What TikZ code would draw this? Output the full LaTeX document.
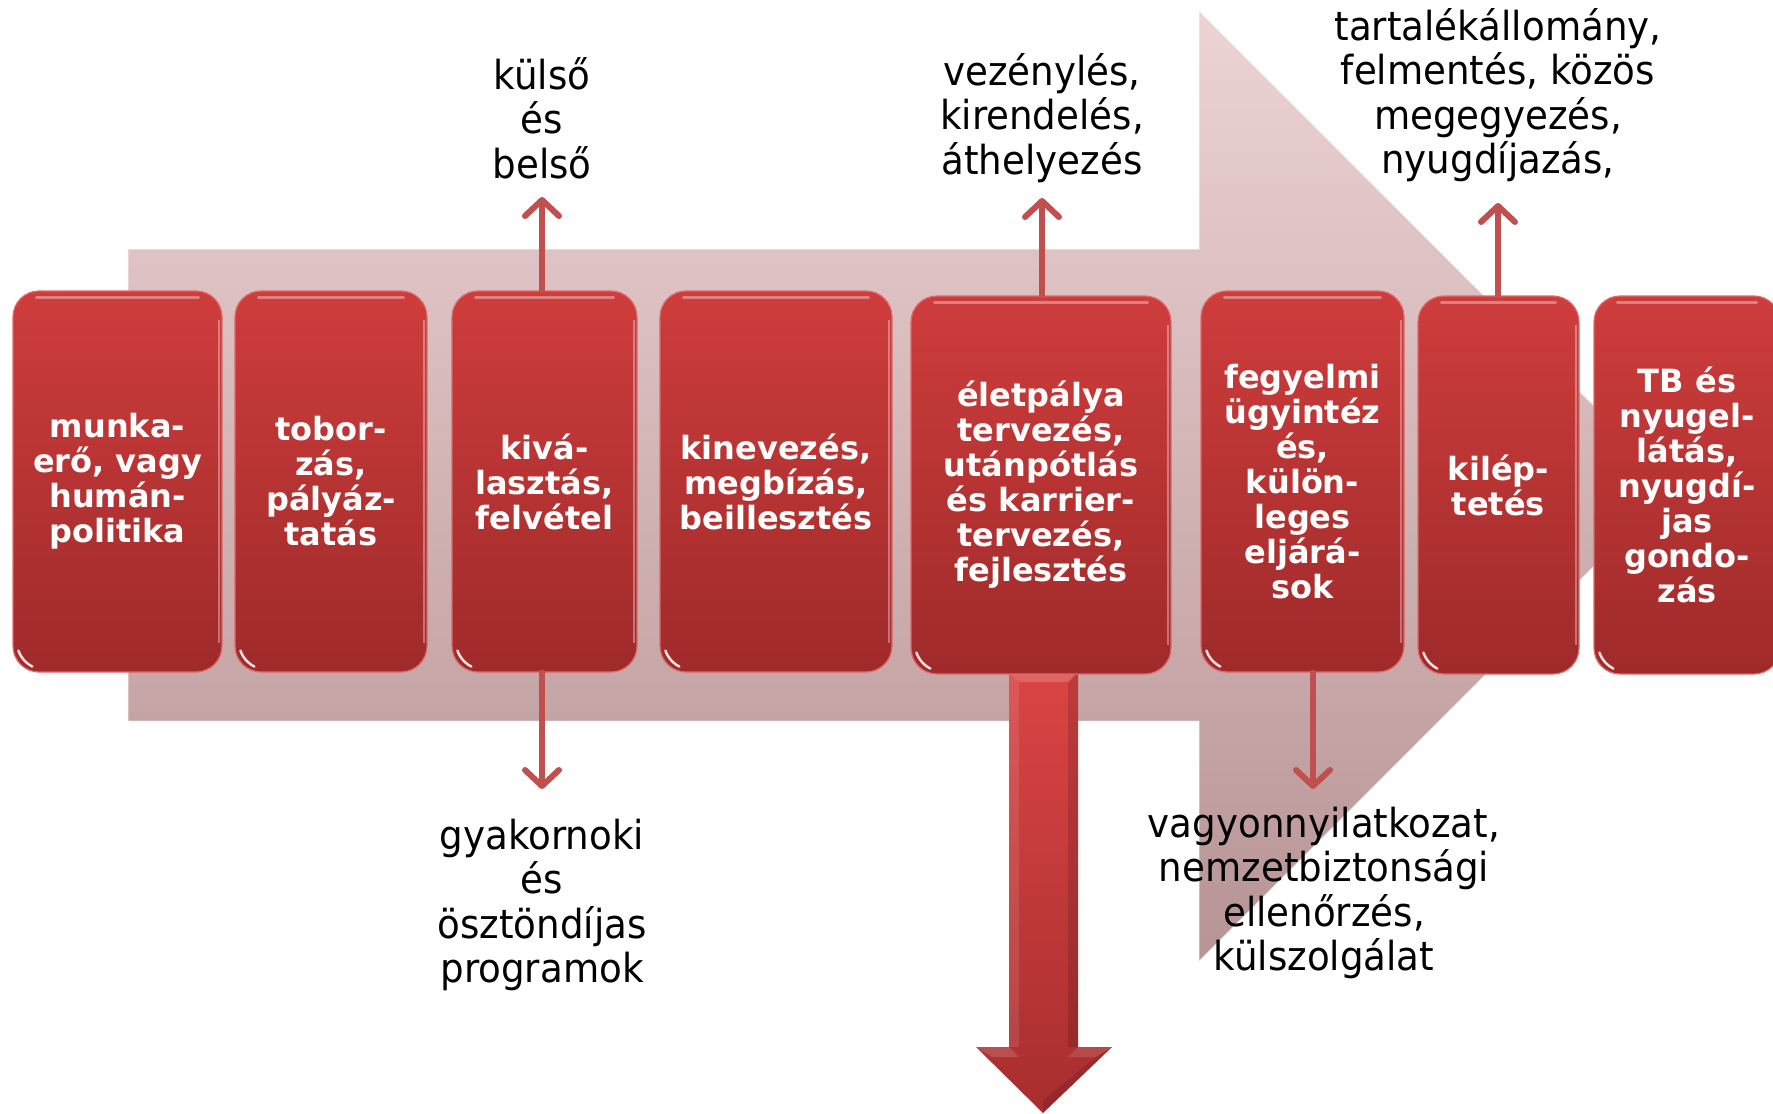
\documentclass[tikz,border=0pt]{standalone}
\usepackage{fontspec}
\newfontfamily\lblfont{DejaVu Sans}[FakeStretch=0.93]
\newfontfamily\boxfont{DejaVu Sans}
\usetikzlibrary{arrows.meta}
\definecolor{boxtop}{HTML}{CE3D3C}
\definecolor{boxbot}{HTML}{9F2A2A}
\definecolor{boxedge}{HTML}{DE6A6A}
\definecolor{bgtop}{HTML}{EDD3D4}
\definecolor{bgbot}{HTML}{B79495}
\definecolor{conn}{HTML}{C0504D}
\definecolor{dtop}{HTML}{DA4444}
\definecolor{dbot}{HTML}{A82E2E}
\newcommand{\boxshine}[1]{%
  \draw[white, opacity=.35, line width=3pt, line cap=round]
    ([xshift=24pt,yshift=-7pt]#1.north west) -- ([xshift=-24pt,yshift=-7pt]#1.north east);
  \draw[white, opacity=.85, line width=2.5pt, line cap=round]
    ([xshift=6pt,yshift=22pt]#1.south west) to[bend right=20] ([xshift=20pt,yshift=6pt]#1.south west);
  \draw[white, opacity=.35, line width=2pt]
    ([xshift=-4pt,yshift=-30pt]#1.north east) -- ([xshift=-4pt,yshift=30pt]#1.south east);
}
\begin{document}
\begin{tikzpicture}[x=1pt,y=-1pt,
  stagebox/.style={rounded corners=26pt, top color=boxtop, bottom color=boxbot,
    draw=boxedge, line width=1.2pt, text=white, align=center, inner sep=0pt,
    font=\boxfont\bfseries\fontsize{32}{35}\selectfont},
  lbl/.style={align=center, text=black, inner sep=0pt,
    font=\lblfont\fontsize{40}{44.5}\selectfont},
  connarrow/.style={draw=conn, line width=6pt, line cap=round,
    -{Straight Barb[length=16pt,width=34pt,line cap=round,line join=round]}}
]
\useasboundingbox (0,0) rectangle (1773,1114);
\clip (0,0) rectangle (1773,1114);
\fill[white] (0,0) rectangle (1773,1114);

% background process arrow
\path[top color=bgtop, bottom color=bgbot, draw=white, draw opacity=.5, line width=1pt]
  (128,249) -- (1199,249) -- (1199,11) -- (1674,486) -- (1199,961) -- (1199,721) -- (128,721) -- cycle;

% big down arrow
\path[top color=dtop, bottom color=dbot]
  (1009,672) -- (1078,672) -- (1078,1047) -- (1112,1047) -- (1043,1113) -- (976,1047) -- (1009,1047) -- cycle;
\fill[black, opacity=.13] (1068,682) -- (1078,672) -- (1078,1047) -- (1068,1047) -- cycle;
\fill[white, opacity=.10] (1009,672) -- (1019,682) -- (1019,1047) -- (1009,1047) -- cycle;
\fill[white, opacity=.18] (1009,672) -- (1078,672) -- (1068,682) -- (1019,682) -- cycle;
\fill[white, opacity=.15] (976,1047) -- (1009,1047) -- (1019,1057) -- (992,1057) -- cycle;
\fill[white, opacity=.12] (1078,1047) -- (1112,1047) -- (1096,1057) -- (1068,1057) -- cycle;
\fill[black, opacity=.12] (1043,1113) -- (1112,1047) -- (1096,1057) -- (1043,1100) -- cycle;

% stage boxes
\node[stagebox, minimum width=209pt, minimum height=381pt] (b1) at (117.5,481.5) {munka-\\erő, vagy\\humán-\\politika};
\node[stagebox, minimum width=192pt, minimum height=381pt] (b2) at (331,481.5) {tobor-\\zás,\\pályáz-\\tatás};
\node[stagebox, minimum width=185pt, minimum height=381pt] (b3) at (544.5,481.5) {kivá-\\lasztás,\\felvétel};
\node[stagebox, minimum width=232pt, minimum height=381pt] (b4) at (776,481.5) {kinevezés,\\megbízás,\\beillesztés};
\node[stagebox, minimum width=260pt, minimum height=378pt] (b5) at (1041,485) {életpálya\\tervezés,\\utánpótlás\\és karrier-\\tervezés,\\fejlesztés};
\node[stagebox, minimum width=203pt, minimum height=381pt] (b6) at (1302.5,481.5) {fegyelmi\\ügyintéz\\és,\\külön-\\leges\\eljárá-\\sok};
\node[stagebox, minimum width=161pt, minimum height=378pt] (b7) at (1498.5,485) {kilép-\\tetés};
\node[stagebox, minimum width=186pt, minimum height=378pt] (b8) at (1687,485) {TB és\\nyugel-\\látás,\\nyugdí-\\jas\\gondo-\\zás};
\boxshine{b1}\boxshine{b2}\boxshine{b3}\boxshine{b4}
\boxshine{b5}\boxshine{b6}\boxshine{b7}\boxshine{b8}

% side labels
\node[lbl] (l3up) at (542,118) {külső\\és\\belső};
\node[lbl] (l5up) at (1042,118) {vezénylés,\\kirendelés,\\áthelyezés};
\node[lbl] (l7up) at (1498,95) {tartalékállomány,\\felmentés, közös\\megegyezés,\\nyugdíjazás,};
\node[lbl] (l3dn) at (542,905) {gyakornoki\\és\\ösztöndíjas\\programok};
\node[lbl] (l6dn) at (1324,893) {vagyonnyilatkozat,\\nemzetbiztonsági\\ellenőrzés,\\külszolgálat};

% connectors
\coordinate (c3up) at (542,197);
\coordinate (c3dn) at (542,789);
\coordinate (c5up) at (1042,198);
\coordinate (c7up) at (1498,203);
\coordinate (c6dn) at (1313,789);
\draw[connarrow] (b3.north -| c3up) -- (c3up);
\draw[connarrow] (b3.south -| c3dn) -- (c3dn);
\draw[connarrow] (b5.north -| c5up) -- (c5up);
\draw[connarrow] (b7.north -| c7up) -- (c7up);
\draw[connarrow] (b6.south -| c6dn) -- (c6dn);
\end{tikzpicture}
\end{document}
